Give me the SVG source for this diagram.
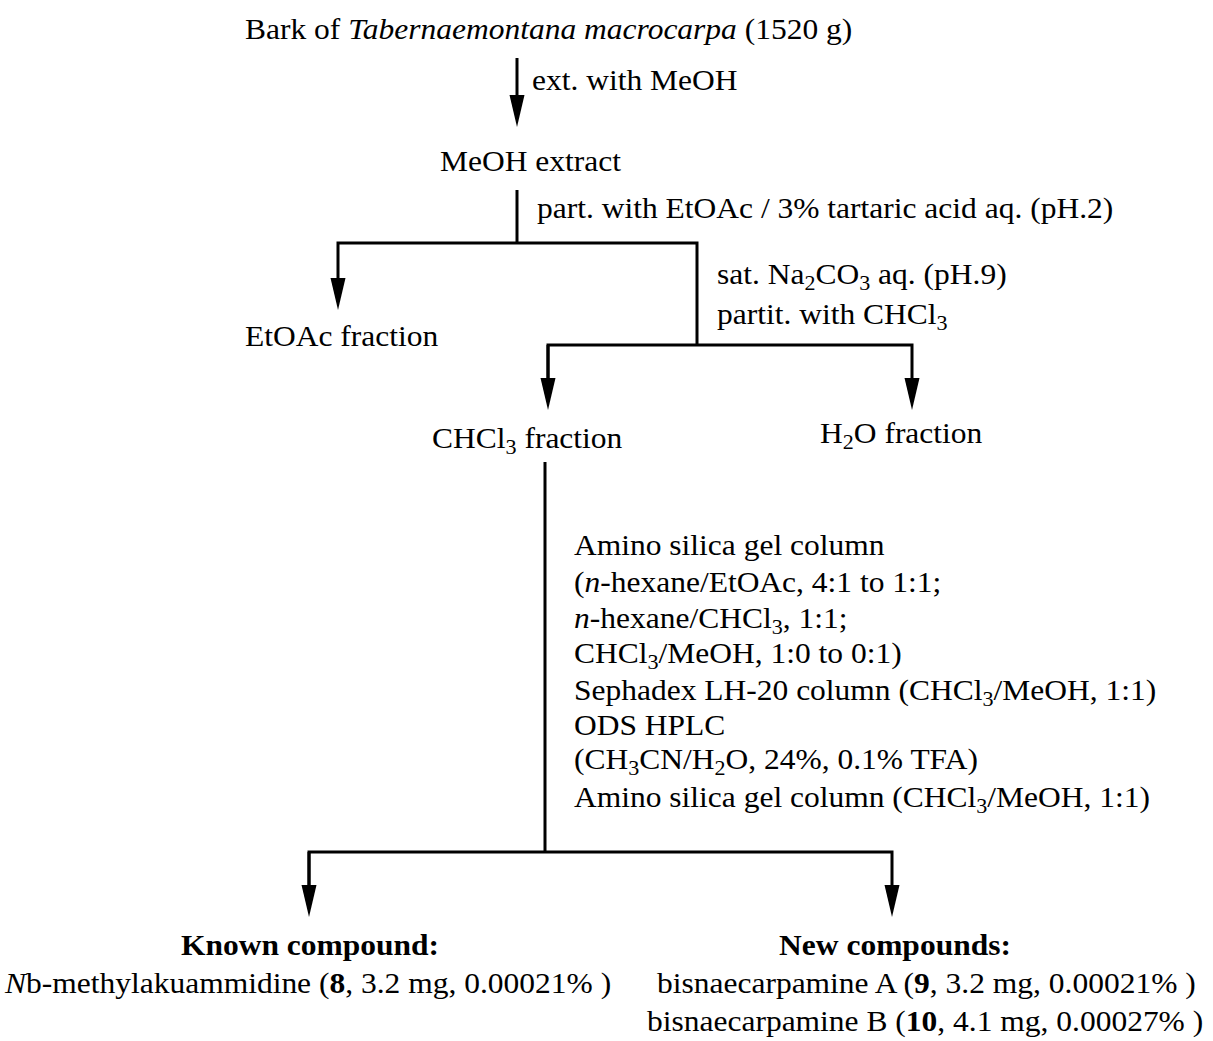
<svg xmlns="http://www.w3.org/2000/svg" width="1213" height="1041" viewBox="0 0 1213 1041">
<style>
text{font-family:"Liberation Serif","Times New Roman",serif;font-size:30px;fill:#000}
.b{font-weight:bold}
.i{font-style:italic}
.s{font-size:21px}
.ln{fill:none;stroke:#000;stroke-width:3}
</style>
<defs>
<marker id="ah" markerUnits="userSpaceOnUse" markerWidth="34" markerHeight="18" viewBox="0 -9 34 18" refX="12" refY="0" orient="auto">
<path d="M0,-7.5 L32,0 L0,7.5 Z" fill="#000"/>
</marker>
</defs>
<rect width="1213" height="1041" fill="#fff"/>
<g id="connectors">
<line class="ln" x1="517" y1="58" x2="517" y2="107" marker-end="url(#ah)"/>
<polyline class="ln" points="517,190 517,243"/>
<polyline class="ln" points="697,345 697,243 338,243 338,290" marker-end="url(#ah)"/>
<polyline class="ln" points="548,390 548,345 912,345 912,390" marker-end="url(#ah)"/>
<line class="ln" x1="548" y1="345" x2="548" y2="390" marker-end="url(#ah)"/>
<polyline class="ln" points="545,462 545,852"/>
<polyline class="ln" points="309,897 309,852 892,852 892,897" marker-end="url(#ah)"/>
<line class="ln" x1="309" y1="852" x2="309" y2="897" marker-end="url(#ah)"/>
</g>
<g id="n-bark"><text transform="matrix(1.05 0 0 1 245 39)">Bark of <tspan class="i">Tabernaemontana macrocarpa</tspan> (1520 g)</text></g>
<g id="l-ext"><text transform="matrix(1.05 0 0 1 532 90)">ext. with MeOH</text></g>
<g id="n-meoh"><text transform="matrix(1.05 0 0 1 440 171)">MeOH extract</text></g>
<g id="l-part"><text transform="matrix(1.05 0 0 1 537 218)">part. with EtOAc / 3% tartaric acid aq. (pH.2)</text></g>
<g id="l-sat"><text transform="matrix(1.05 0 0 1 717 284)">sat. Na<tspan class="s" dy="6">2</tspan><tspan dy="-6">CO</tspan><tspan class="s" dy="6">3</tspan><tspan dy="-6"> aq. (pH.9)</tspan></text>
<text transform="matrix(1.05 0 0 1 717 324)">partit. with CHCl<tspan class="s" dy="6">3</tspan></text></g>
<g id="n-etoac"><text transform="matrix(1.05 0 0 1 245 346)">EtOAc fraction</text></g>
<g id="n-chcl3"><text transform="matrix(1.05 0 0 1 432 448)">CHCl<tspan class="s" dy="6">3</tspan><tspan dy="-6"> fraction</tspan></text></g>
<g id="n-h2o"><text transform="matrix(1.05 0 0 1 820 443)">H<tspan class="s" dy="6">2</tspan><tspan dy="-6">O fraction</tspan></text></g>
<g id="l-sep">
<text transform="matrix(1.05 0 0 1 574 555)">Amino silica gel column</text>
<text transform="matrix(1.05 0 0 1 574 592)">(<tspan class="i">n</tspan>-hexane/EtOAc, 4:1 to 1:1;</text>
<text transform="matrix(1.05 0 0 1 574 628)"> <tspan class="i">n</tspan>-hexane/CHCl<tspan class="s" dy="6">3</tspan><tspan dy="-6">, 1:1;</tspan></text>
<text transform="matrix(1.05 0 0 1 574 663)"> CHCl<tspan class="s" dy="6">3</tspan><tspan dy="-6">/MeOH, 1:0 to 0:1)</tspan></text>
<text transform="matrix(1.05 0 0 1 574 700)">Sephadex LH-20 column (CHCl<tspan class="s" dy="6">3</tspan><tspan dy="-6">/MeOH, 1:1)</tspan></text>
<text transform="matrix(1.05 0 0 1 574 735)">ODS HPLC</text>
<text transform="matrix(1.05 0 0 1 574 769)">(CH<tspan class="s" dy="6">3</tspan><tspan dy="-6">CN/H</tspan><tspan class="s" dy="6">2</tspan><tspan dy="-6">O, 24%, 0.1% TFA)</tspan></text>
<text transform="matrix(1.05 0 0 1 574 807)">Amino silica gel column (CHCl<tspan class="s" dy="6">3</tspan><tspan dy="-6">/MeOH, 1:1)</tspan></text>
</g>
<g id="n-known">
<text class="b" transform="matrix(1.05 0 0 1 310 955)" text-anchor="middle">Known compound:</text>
<text transform="matrix(1.05 0 0 1 5 993)"><tspan class="i">N</tspan>b-methylakuammidine (<tspan class="b">8</tspan>, 3.2 mg, 0.00021% )</text>
</g>
<g id="n-new">
<text class="b" transform="matrix(1.05 0 0 1 895 955)" text-anchor="middle">New compounds:</text>
<text transform="matrix(1.05 0 0 1 657 993)">bisnaecarpamine A (<tspan class="b">9</tspan>, 3.2 mg, 0.00021% )</text>
<text transform="matrix(1.05 0 0 1 647 1031)">bisnaecarpamine B (<tspan class="b">10</tspan>, 4.1 mg, 0.00027%  )</text>
</g>
</svg>
